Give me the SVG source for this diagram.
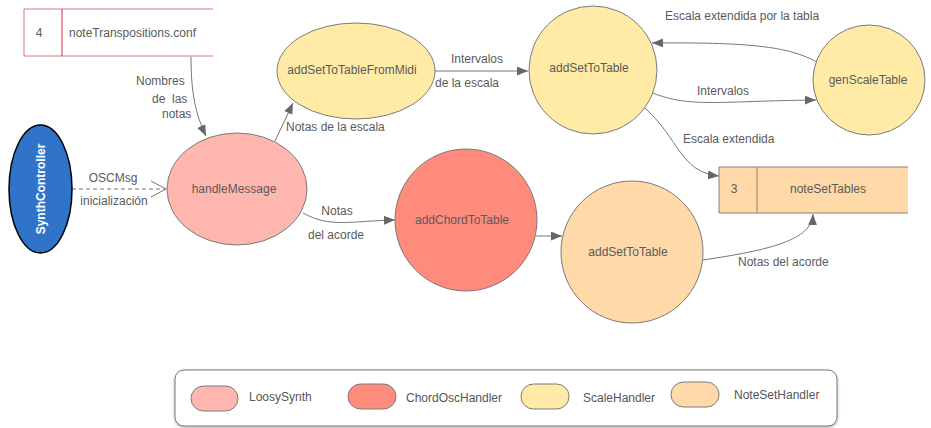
<svg xmlns="http://www.w3.org/2000/svg" width="931" height="428" viewBox="0 0 931 428">
<defs>
<style>
text{font-family:"Liberation Sans",Arial,sans-serif;font-size:12px;fill:#5a5a5a}
.node{stroke:#7a7a7a;stroke-width:1}
.c{fill:none;stroke:#777;stroke-width:1}
.lbl{fill:#5a5a5a}
.mid{text-anchor:middle}
.leg{font-size:12px;fill:#555}
</style>
<marker id="ah" viewBox="0 0 10 8" refX="10" refY="4" markerWidth="11" markerHeight="9" markerUnits="userSpaceOnUse" orient="auto">
<path d="M0,0 L10,4 L0,8 z" fill="#666"/>
</marker>
<marker id="open" viewBox="0 0 16 18" refX="15" refY="9" markerWidth="16" markerHeight="18" markerUnits="userSpaceOnUse" orient="auto">
<path d="M0,1 L15,9 L0,17" fill="none" stroke="#777" stroke-width="1"/>
</marker>
<filter id="sh" x="-5%" y="-20%" width="110%" height="150%">
<feDropShadow dx="0" dy="1.5" stdDeviation="1.5" flood-color="#000" flood-opacity="0.3"/>
</filter>
</defs>

<g id="connectors">
<path class="c" d="M72,189 L166,189" stroke-dasharray="4,3" marker-end="url(#open)"/>
<path class="c" d="M191,57 C191,95 196,115 206,136" marker-end="url(#ah)"/>
<path class="c" d="M275,141 L293,103" marker-end="url(#ah)"/>
<path class="c" d="M435,71 L528,71" marker-end="url(#ah)"/>
<path class="c" d="M817,62 C790,48 760,42 652,43" marker-end="url(#ah)"/>
<path class="c" d="M653,93 C690,108 720,101 816,100" marker-end="url(#ah)"/>
<path class="c" d="M645,108 C680,140 680,172 719,176" marker-end="url(#ah)"/>
<path class="c" d="M303,213 C330,228 350,221 395,220" marker-end="url(#ah)"/>
<path class="c" d="M536,236 L562,236" marker-end="url(#ah)"/>
<path class="c" d="M703,260 C770,250 812,240 813,214" marker-end="url(#ah)"/>
<text x="113" y="182" class="mid">OSCMsg</text>
<text x="114" y="205" class="mid">inicialización</text>
<text x="136" y="85">Nombres</text>
<text x="152" y="103">de</text>
<text x="172" y="103">las</text>
<text x="162" y="118">notas</text>
<text x="286" y="131">Notas de la escala</text>
<text x="477" y="63" class="mid">Intervalos</text>
<text x="435" y="87">de la escala</text>
<text x="665" y="20">Escala extendida por la tabla</text>
<text x="697" y="95">Intervalos</text>
<text x="683" y="143">Escala extendida</text>
<text x="337" y="215" class="mid">Notas</text>
<text x="308" y="239">del acorde</text>
<text x="738" y="266">Notas del acorde</text>
</g>

<g id="noteTranspositions">
<rect x="24" y="9" width="189" height="47" fill="#fff" stroke="none"/>
<path d="M213,9 L24,9 L24,56 L213,56" fill="none" stroke="#e0707e" stroke-width="1"/>
<line x1="62" y1="9" x2="62" y2="56" stroke="#cc3344" stroke-width="1"/>
<text x="39" y="37" class="mid">4</text>
<text x="69" y="37">noteTranspositions.conf</text>
</g>

<g id="SynthController">
<ellipse cx="40.5" cy="189" rx="31.5" ry="64" fill="#2f74c9" stroke="#000" stroke-width="1.5"/>
<text transform="translate(44.5,189) rotate(-90)" text-anchor="middle" style="fill:#fff;font-weight:bold">SynthController</text>
</g>

<g id="handleMessage">
<ellipse class="node" cx="237" cy="189" rx="70" ry="56" fill="#ffb6ae"/>
<text x="234" y="193" class="mid">handleMessage</text>
</g>

<g id="addSetToTableFromMidi">
<ellipse class="node" cx="356" cy="71" rx="79" ry="48" fill="#ffeaa6"/>
<text x="352" y="74" class="mid">addSetToTableFromMidi</text>
</g>

<g id="addSetToTable1">
<circle class="node" cx="593" cy="70" r="64" fill="#ffeaa6"/>
<text x="589" y="72" class="mid">addSetToTable</text>
</g>

<g id="genScaleTable">
<ellipse class="node" cx="869" cy="80" rx="56" ry="55" fill="#ffeaa6"/>
<text x="868" y="84" class="mid">genScaleTable</text>
</g>

<g id="noteSetTables">
<rect x="719" y="167" width="189" height="46" fill="#ffd9a8" stroke="none"/>
<path d="M908,167 L719,167 L719,213 L908,213" fill="none" stroke="#8c8070" stroke-width="1"/>
<line x1="757" y1="167" x2="757" y2="213" stroke="#8c8070" stroke-width="1"/>
<text x="734" y="193" class="mid">3</text>
<text x="828" y="193" class="mid">noteSetTables</text>
</g>

<g id="addChordToTable">
<circle class="node" cx="466" cy="220" r="71" fill="#ff8b7d"/>
<text x="462" y="224" class="mid">addChordToTable</text>
</g>

<g id="addSetToTable2">
<circle class="node" cx="632" cy="252" r="71" fill="#ffd9a8"/>
<text x="628" y="256" class="mid">addSetToTable</text>
</g>

<g id="legend">
<rect x="175" y="370" width="662" height="56" rx="9" fill="#fff" stroke="#777" stroke-width="1" filter="url(#sh)"/>
<rect x="191" y="386" width="47" height="25" rx="12.5" fill="#ffb6ae" stroke="#7a7a7a"/>
<text x="249" y="401" class="leg">LoosySynth</text>
<rect x="348" y="384" width="48" height="25" rx="12.5" fill="#ff8b7d" stroke="#7a7a7a"/>
<text x="406" y="402" class="leg">ChordOscHandler</text>
<rect x="521" y="384" width="48" height="25" rx="12.5" fill="#ffeaa6" stroke="#7a7a7a"/>
<text x="583" y="402" class="leg">ScaleHandler</text>
<rect x="671" y="382" width="48" height="25" rx="12.5" fill="#ffd9a8" stroke="#7a7a7a"/>
<text x="734" y="399" class="leg">NoteSetHandler</text>
</g>
</svg>
